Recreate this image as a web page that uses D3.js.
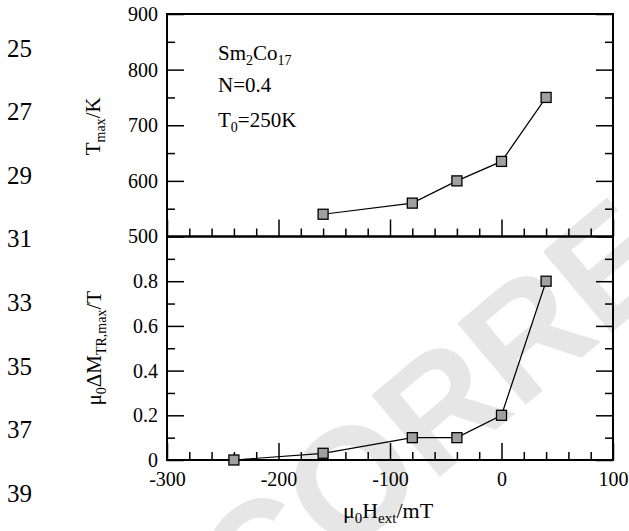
<!DOCTYPE html>
<html>
<head>
<meta charset="utf-8">
<script src="https://cdn.jsdelivr.net/npm/d3@7"></script>
<style>
  body { margin: 0; background: #fff; }
  text { font-family: "Liberation Serif", "Times New Roman", serif; fill: #000; }
</style>
</head>
<body>
<svg id="chart" width="629" height="531"></svg>
<script>
// field values (mT)
const fieldTop = [-160, -80, -40, 0, 40];
const tMax = [540, 560, 600, 635, 750];
const fieldBottom = [-240, -160, -80, -40, 0, 40];
const deltaM = [0, 0.03, 0.1, 0.1, 0.2, 0.8];

const xTicks = [-300, -200, -100, 0, 100];
const tTicks = [500, 600, 700, 800, 900];
const mTicks = [0, 0.2, 0.4, 0.6, 0.8];
const lineNumbers = [25, 27, 29, 31, 33, 35, 37, 39];

const serif = '"Liberation Serif", "Times New Roman", serif';
const svg = d3.select('#chart');

const pLeft = 167, pRight = 613, pTop = 14, pMid = 236.5, pBottom = 460;

// watermark behind everything
svg.append('text')
    .attr('transform', 'translate(254,633) rotate(-40)')
    .style('font-family', '"Liberation Sans", Arial, sans-serif')
    .style('font-weight', 'bold')
    .style('font-size', '155px')
    .style('fill', '#e6e6e6')
    .text('CORRECTED PROOF');

// manuscript line numbers
const ln = d3.scaleLinear().domain([25, 39]).range([48, 493]);
svg.selectAll('.lineno')
    .data(lineNumbers)
    .enter()
    .append('text')
    .attr('class', 'lineno')
    .attr('x', 7)
    .attr('y', d => ln(d))
    .attr('dy', '0.35em')
    .style('font-size', '25px')
    .text(d => d);

const x = d3.scaleLinear().domain([-300, 100]).range([pLeft, pRight]);
const yT = d3.scaleLinear().domain([500, 900]).range([pMid, pTop]);
const yM = d3.scaleLinear().domain([0, 1]).range([pBottom, pMid]);

const minorX = d3.range(-300, 101, 20).filter(v => v % 100 !== 0);
const minorT = [550, 650, 750, 850];
const minorM = [0.1, 0.3, 0.5, 0.7, 0.9];

function styleAxis(g) {
    g.attr('font-family', serif).attr('font-size', 20);
    g.select('.domain').remove();
    g.selectAll('.tick line').attr('stroke', '#000').attr('stroke-width', 1.5);
    g.selectAll('.tick text')
        .style('font-family', serif)
        .style('font-size', '20px')
        .attr('fill', '#000');
}

// x ticks on the middle line (upper panel, pointing up)
svg.append('g').attr('transform', `translate(0,${pMid})`)
    .call(d3.axisTop(x).tickValues(xTicks).tickSize(17).tickFormat(''))
    .call(styleAxis);
svg.append('g').attr('transform', `translate(0,${pMid})`)
    .call(d3.axisTop(x).tickValues(minorX).tickSize(8).tickFormat(''))
    .call(styleAxis);

// x ticks at the bottom (pointing up) with labels
svg.append('g').attr('transform', `translate(0,${pBottom})`)
    .call(d3.axisBottom(x).tickValues(xTicks).tickSizeInner(-17).tickSizeOuter(0).tickPadding(12)
        .tickFormat(d => String(d)))
    .call(styleAxis);
svg.append('g').attr('transform', `translate(0,${pBottom})`)
    .call(d3.axisBottom(x).tickValues(minorX).tickSizeInner(-8).tickSizeOuter(0).tickFormat(''))
    .call(styleAxis);

// y axes, upper panel
svg.append('g').attr('transform', `translate(${pLeft},0)`)
    .call(d3.axisLeft(yT).tickValues(tTicks).tickSizeInner(-17).tickSizeOuter(0).tickPadding(9)
        .tickFormat(d => String(d)))
    .call(styleAxis);
svg.append('g').attr('transform', `translate(${pLeft},0)`)
    .call(d3.axisLeft(yT).tickValues(minorT).tickSizeInner(-8).tickFormat(''))
    .call(styleAxis);
svg.append('g').attr('transform', `translate(${pRight},0)`)
    .call(d3.axisRight(yT).tickValues(tTicks).tickSizeInner(-17).tickFormat(''))
    .call(styleAxis);
svg.append('g').attr('transform', `translate(${pRight},0)`)
    .call(d3.axisRight(yT).tickValues(minorT).tickSizeInner(-8).tickFormat(''))
    .call(styleAxis);

// y axes, lower panel
svg.append('g').attr('transform', `translate(${pLeft},0)`)
    .call(d3.axisLeft(yM).tickValues(mTicks).tickSizeInner(-17).tickSizeOuter(0).tickPadding(9)
        .tickFormat(d => d === 0 ? '0' : d3.format('.1f')(d)))
    .call(styleAxis);
svg.append('g').attr('transform', `translate(${pLeft},0)`)
    .call(d3.axisLeft(yM).tickValues(minorM).tickSizeInner(-8).tickFormat(''))
    .call(styleAxis);
svg.append('g').attr('transform', `translate(${pRight},0)`)
    .call(d3.axisRight(yM).tickValues(mTicks).tickSizeInner(-17).tickFormat(''))
    .call(styleAxis);
svg.append('g').attr('transform', `translate(${pRight},0)`)
    .call(d3.axisRight(yM).tickValues(minorM).tickSizeInner(-8).tickFormat(''))
    .call(styleAxis);

// frames
[[pTop, pMid], [pMid, pBottom]].forEach(([a, b]) => {
    svg.append('rect')
        .attr('x', pLeft).attr('y', a)
        .attr('width', pRight - pLeft).attr('height', b - a)
        .attr('fill', 'none').attr('stroke', '#000').attr('stroke-width', 2);
});

// data
function drawSeries(xs, ys, yScale) {
    const pts = xs.map((v, i) => [x(v), yScale(ys[i])]);
    svg.append('path')
        .attr('d', d3.line()(pts))
        .attr('fill', 'none').attr('stroke', '#000').attr('stroke-width', 1.2);
    svg.selectAll(null)
        .data(pts)
        .enter()
        .append('rect')
        .attr('x', d => d[0] - 5).attr('y', d => d[1] - 5)
        .attr('width', 10).attr('height', 10)
        .attr('fill', '#a0a0a0').attr('stroke', '#000').attr('stroke-width', 1.3);
}
drawSeries(fieldTop, tMax, yT);
drawSeries(fieldBottom, deltaM, yM);

// annotation
const ann = svg.append('g').style('font-size', '21px');
const t1 = ann.append('text').attr('x', 218).attr('y', 60);
t1.append('tspan').text('Sm');
t1.append('tspan').attr('dy', 5).style('font-size', '14px').text('2');
t1.append('tspan').attr('dy', -5).text('Co');
t1.append('tspan').attr('dy', 5).style('font-size', '14px').text('17');
ann.append('text').attr('x', 218).attr('y', 92).text('N=0.4');
const t3 = ann.append('text').attr('x', 218).attr('y', 127);
t3.append('tspan').text('T');
t3.append('tspan').attr('dy', 5).style('font-size', '14px').text('0');
t3.append('tspan').attr('dy', -5).text('=250K');

// axis titles
const ty = svg.append('text')
    .attr('transform', `translate(100,${(pTop + pMid) / 2 + 1}) rotate(-90)`)
    .attr('text-anchor', 'middle')
    .style('font-size', '21px');
ty.append('tspan').text('T');
ty.append('tspan').attr('dy', 5).style('font-size', '14px').text('max');
ty.append('tspan').attr('dy', -5).text('/K');

const my = svg.append('text')
    .attr('transform', `translate(101,${(pMid + pBottom) / 2}) rotate(-90)`)
    .attr('text-anchor', 'middle')
    .style('font-size', '21px');
my.append('tspan').text('μ');
my.append('tspan').attr('dy', 5).style('font-size', '14px').text('0');
my.append('tspan').attr('dy', -5).text('ΔM');
my.append('tspan').attr('dy', 5).style('font-size', '14px').text('TR,max');
my.append('tspan').attr('dy', -5).text('/T');

const tx = svg.append('text')
    .attr('x', (pLeft + pRight) / 2 - 2).attr('y', 518)
    .attr('text-anchor', 'middle')
    .style('font-size', '22px');
tx.append('tspan').text('μ');
tx.append('tspan').attr('dy', 5).style('font-size', '15px').text('0');
tx.append('tspan').attr('dy', -5).text('H');
tx.append('tspan').attr('dy', 5).style('font-size', '15px').text('ext');
tx.append('tspan').attr('dy', -5).text('/mT');
</script>
</body>
</html>
